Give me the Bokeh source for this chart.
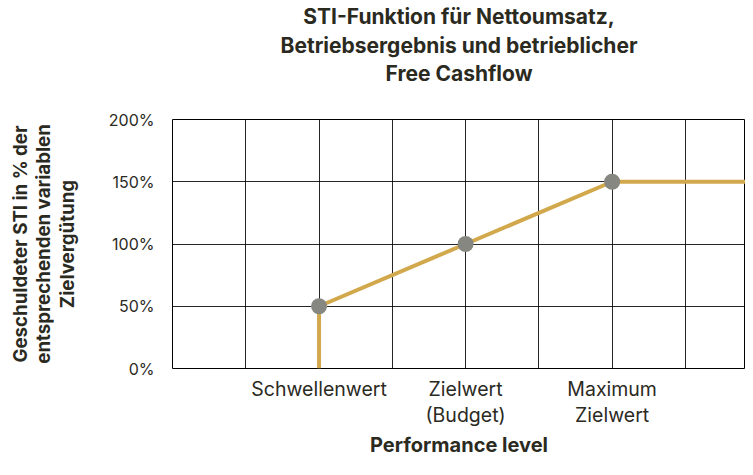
from bokeh.plotting import figure
from bokeh.models import FixedTicker, Range1d, Title, LinearAxis
from bokeh.embed import file_html
from bokeh.resources import INLINE

# Data
line_x = [2, 2, 4, 6, 8]
line_y = [0, 50, 100, 150, 150]
point_x = [2, 4, 6]
point_y = [50, 100, 150]
x_grid_ticks = [1, 2, 3, 4, 5, 6, 7]
x_tick_labels = {2: "Schwellenwert", 4: "Zielwert\n(Budget)", 6: "Maximum\nZielwert"}
y_ticks = [0, 50, 100, 150, 200]
y_tick_labels = {0: "0%", 50: "50%", 100: "100%", 150: "150%", 200: "200%"}
title_lines = ["STI-Funktion für Nettoumsatz,", "Betriebsergebnis und betrieblicher", "Free Cashflow"]

TEXT = "#2b2a1f"
FONT = "Inter"

p = figure(width=745, height=459, output_backend="svg", toolbar_location=None,
           x_range=Range1d(0, 7.82), y_range=Range1d(0, 200),
           min_border_right=0, min_border_left=0, min_border_top=0, min_border_bottom=0)
p.title = None

# spacer between the title block and the plot area
p.add_layout(Title(text=" ", text_font=FONT, text_font_size="20px", standoff=7), "above")
# Title lines, added bottom-up so each line is centred on its own
for txt, so in zip(reversed(title_lines), [1, 1, 3]):
    t = Title(text=txt, align="center", text_font=FONT, text_font_size="21px",
              text_font_style="bold", text_color=TEXT, standoff=so, offset=0)
    p.add_layout(t, "above")

p.outline_line_color = "black"
p.outline_line_width = 1
p.outline_line_alpha = 1

# Axes
p.xaxis.ticker = FixedTicker(ticks=x_grid_ticks)
p.xaxis.major_label_overrides = {k: x_tick_labels.get(k, "") for k in x_grid_ticks}
p.xaxis.axis_label = "Performance level"
p.yaxis.ticker = FixedTicker(ticks=y_ticks)
p.yaxis.major_label_overrides = y_tick_labels
p.yaxis.axis_label = "Geschuldeter STI in % der\nentsprechenden variablen\nZielvergütung"

for ax in (p.xaxis[0], p.yaxis[0]):
    ax.axis_line_color = None
    ax.major_tick_line_color = None
    ax.minor_tick_line_color = None
    ax.major_tick_out = 0
    ax.major_tick_in = 0
    ax.minor_tick_out = 0
    ax.minor_tick_in = 0
    ax.major_label_text_font = FONT
    ax.major_label_text_color = TEXT
    ax.axis_label_text_font = FONT
    ax.axis_label_text_font_style = "bold"
    ax.axis_label_text_color = TEXT

p.xaxis.major_label_text_font_size = "19.5px"
p.xaxis.axis_label_text_font_size = "20px"
p.xaxis.major_label_standoff = 8
p.xaxis.axis_label_standoff = 3
p.xaxis.major_label_text_line_height = 1.1
p.xaxis.axis_label_text_line_height = 0.9

p.yaxis.major_label_text_font_size = "16px"
p.yaxis.axis_label_text_font_size = "18.7px"
p.yaxis.major_label_standoff = 18
p.yaxis.axis_label_standoff = 27
p.yaxis.axis_label_text_line_height = 1.02

# empty outer axis used only as left padding
pad = LinearAxis(ticker=FixedTicker(ticks=[]), axis_line_color=None,
                 major_tick_line_color=None, minor_tick_line_color=None,
                 major_tick_out=0, major_tick_in=0, minor_tick_out=0, minor_tick_in=0,
                 major_label_standoff=0, axis_label=" ", axis_label_standoff=0,
                 axis_label_text_font_size="2px", axis_label_text_color=None)
p.add_layout(pad, "left")

p.xgrid.grid_line_color = "black"
p.ygrid.grid_line_color = "black"
p.xgrid.grid_line_alpha = 0.85
p.ygrid.grid_line_alpha = 0.85

p.line(line_x, line_y, line_color="#d2a84c", line_width=4)
p.scatter(point_x, point_y, size=16, fill_color="#878781", line_color=None)

open("out.html", "w").write(file_html(p, INLINE))
